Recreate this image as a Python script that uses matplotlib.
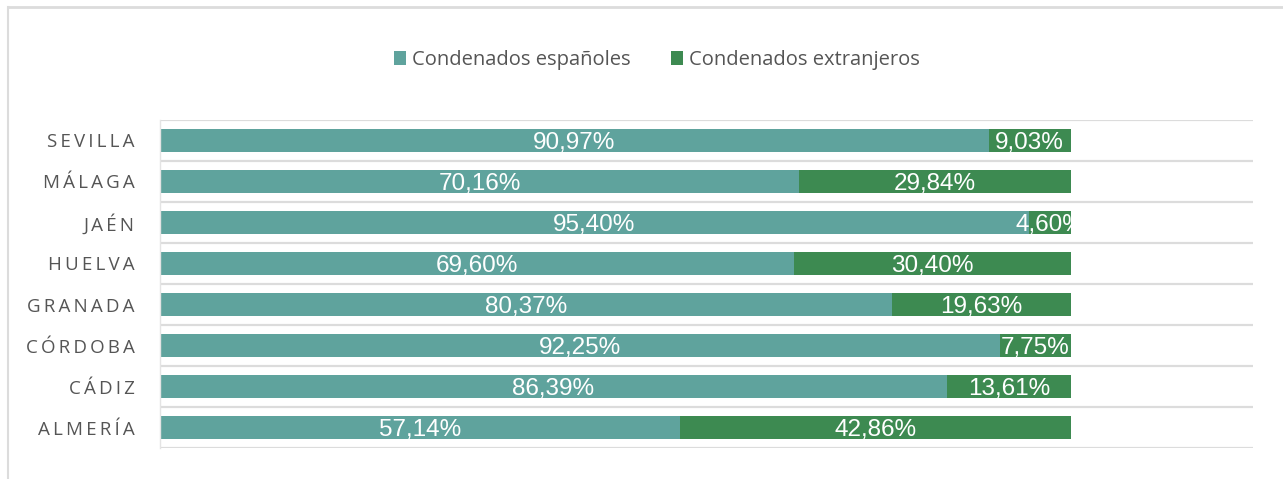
import matplotlib.pyplot as plt
from matplotlib.lines import Line2D
from matplotlib.ticker import FixedLocator

provincias = ["SEVILLA", "MÁLAGA", "JAÉN", "HUELVA", "GRANADA", "CÓRDOBA", "CÁDIZ", "ALMERÍA"]
espanoles = [90.97, 70.16, 95.40, 69.60, 80.37, 92.25, 86.39, 57.14]
extranjeros = [9.03, 29.84, 4.60, 30.40, 19.63, 7.75, 13.61, 42.86]
series_labels = ["Condenados españoles", "Condenados extranjeros"]

color_esp = "#5fa39d"
color_ext = "#3d8a51"
grid_color = "#dcdcdc"

fig = plt.figure(figsize=(12.83, 4.79), dpi=100)
ax = fig.add_axes([0.1247, 0.0647, 0.852, 0.6848])

n = len(provincias)
pos = list(range(n - 1, -1, -1))

bars_esp = ax.barh(pos, espanoles, height=0.55, color=color_esp, label=series_labels[0])
bars_ext = ax.barh(pos, extranjeros, left=espanoles, height=0.55, color=color_ext, label=series_labels[1])


def etiqueta(bars, valores, lefts):
    for b, v, l in zip(bars, valores, lefts):
        txt = ax.text(l + v / 2, b.get_y() + b.get_height() / 2 - 0.01,
                      f"{v:.2f}%".replace(".", ","), ha="center", va="center_baseline",
                      color="white", fontsize=17.5, family="Liberation Sans")
        # recorta la etiqueta al final de la barra (como 4,60%)
        fin = ax.barh(b.get_y() + b.get_height() / 2, 100, height=1.0, alpha=0)
        txt.set_clip_path(fin[0])


etiqueta(bars_esp, espanoles, [0] * n)
etiqueta(bars_ext, extranjeros, espanoles)

ax.set_xlim(0, 120)
ax.set_ylim(-0.5, n - 0.5)
ax.set_xticks([])
ax.set_yticks(pos)
ax.set_yticklabels(["\u2009".join(p) for p in provincias], family="Open Sans",
                   fontsize=13.5, color="#555555")
ax.tick_params(axis="y", length=0, pad=18)
ax.yaxis.set_minor_locator(FixedLocator([i - 0.5 for i in range(n + 1)]))
ax.tick_params(axis="y", which="minor", length=0)
ax.grid(True, axis="y", which="minor", color=grid_color, linewidth=1.6)
ax.set_axisbelow(True)

for s in ["top", "right", "bottom"]:
    ax.spines[s].set_visible(False)
ax.spines["left"].set_color("#e4e4e4")
ax.spines["left"].set_linewidth(1)

leg = fig.legend(loc="center", bbox_to_anchor=(0.512, 0.875), ncol=2, frameon=False,
                 handlelength=0.6, handleheight=0.7, handletextpad=0.3, columnspacing=2.0,
                 prop={"family": "Open Sans", "size": 14.5})
for t in leg.get_texts():
    t.set_color("#555555")

# marco gris del recuadro original
fig.add_artist(Line2D([0.006, 1], [0.985, 0.985], color=grid_color, linewidth=2))
fig.add_artist(Line2D([0.006, 0.006], [0, 0.985], color=grid_color, linewidth=1.5))

fig.savefig("out.png", dpi=100)
